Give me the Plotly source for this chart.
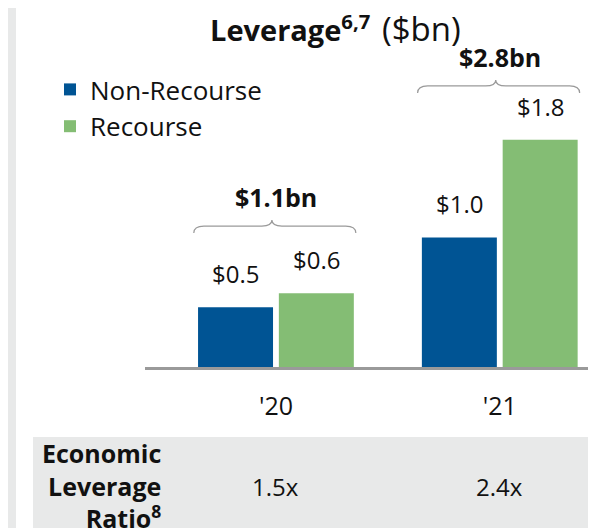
import plotly.graph_objects as go

# ---- data ----
years = ["'20", "'21"]
non_recourse = [0.47, 1.02]
recourse = [0.58, 1.79]
non_recourse_labels = ["$0.5", "$1.0"]
recourse_labels = ["$0.6", "$1.8"]
totals_labels = ["$1.1bn", "$2.8bn"]
econ_leverage = ["1.5x", "2.4x"]

# ---- style ----
BLUE = "#005494"
GREEN = "#84BD74"
FONT = "Open Sans"
BAR_W = 0.335
OFF_NR = -0.348
OFF_R = 0.013
BRACE_HALF = 0.362
BRACE_Y = [(1.055, 1.11, 1.157), (2.157, 2.213, 2.26)]  # end, mid, peak

# page body has an 8px margin: figure is drawn 8px right/down
W, H = 588, 520
ML, MT, MB = 137, 32, 161

def px(p):  # screenshot x pixel -> paper
    return (p - 145) / 451

def py(p):  # screenshot y pixel -> paper
    return (367 - p) / 327

xs = list(range(len(years)))

fig = go.Figure()
fig.add_trace(go.Bar(x=xs, y=non_recourse, name="Non-Recourse", marker_color=BLUE,
                     width=BAR_W, offset=OFF_NR, marker_line_width=0))
fig.add_trace(go.Bar(x=xs, y=recourse, name="Recourse", marker_color=GREEN,
                     width=BAR_W, offset=OFF_R, marker_line_width=0))

annotations = []
shapes = []
for i in xs:
    annotations.append(dict(x=i + OFF_NR + BAR_W / 2, y=non_recourse[i], xref="x", yref="y",
                            text=non_recourse_labels[i], showarrow=False, yanchor="bottom",
                            yshift=15, font=dict(size=24, color="#111")))
    annotations.append(dict(x=i + OFF_R + BAR_W / 2, y=recourse[i], xref="x", yref="y",
                            text=recourse_labels[i], showarrow=False, yanchor="bottom",
                            yshift=15, font=dict(size=24, color="#111")))
    ye, ym, yp = BRACE_Y[i]
    xl, xr, xm = i - 0.005 - BRACE_HALF, i - 0.005 + BRACE_HALF, i - 0.018
    d = 0.045
    path = (f"M{xl},{ye} Q{xl},{ym} {xl + d},{ym} L{xm - d},{ym} Q{xm},{ym} {xm},{yp} "
            f"Q{xm},{ym} {xm + d},{ym} L{xr - d},{ym} Q{xr},{ym} {xr},{ye}")
    shapes.append(dict(type="path", path=path, xref="x", yref="y",
                       line=dict(color="#9a9a9a", width=1.2)))
    annotations.append(dict(x=i, y=yp, xref="x", yref="y", text=f"<b>{totals_labels[i]}</b>",
                            showarrow=False, yanchor="bottom", yshift=4,
                            font=dict(size=25, color="#111")))
    annotations.append(dict(x=i, y=py(486), xref="x", yref="paper",
                            text=econ_leverage[i], showarrow=False, yanchor="middle",
                            font=dict(size=24, color="#111")))

# title (two parts: bold + regular)
annotations.append(dict(x=px(372), y=py(28), xref="paper", yref="paper",
                        text="<b>Leverage<sup>6,7</sup></b>",
                        showarrow=False, xanchor="right", yanchor="middle",
                        font=dict(size=29, color="#111")))
annotations.append(dict(x=px(380), y=py(29), xref="paper", yref="paper",
                        text="($bn)",
                        showarrow=False, xanchor="left", yanchor="middle",
                        font=dict(size=33, color="#111")))
# table row label
annotations.append(dict(x=px(163), y=py(485), xref="paper", yref="paper",
                        text="<b>Economic<br>Leverage<br>Ratio<sup>8</sup></b>", showarrow=False,
                        xanchor="right", yanchor="middle", align="right",
                        font=dict(size=25, color="#111")))

# background strips
shapes.append(dict(type="rect", xref="paper", yref="paper", x0=px(33), x1=px(600),
                   y0=py(540), y1=py(437), fillcolor="#e8e9e9",
                   line_width=0, layer="below"))
shapes.append(dict(type="rect", xref="paper", yref="paper", x0=px(8), x1=px(16),
                   y0=py(540), y1=py(0), fillcolor="#e8e9e9",
                   line_width=0, layer="below"))

fig.update_layout(
    width=W, height=H,
    margin=dict(l=ML, r=0, t=MT, b=MB, pad=0),
    paper_bgcolor="white", plot_bgcolor="white",
    font=dict(family=FONT, color="#111"),
    barmode="overlay",
    showlegend=True,
    legend=dict(x=px(50), y=py(66), xanchor="left", yanchor="top",
                font=dict(size=26, color="#111"), bgcolor="rgba(0,0,0,0)",
                tracegroupgap=0),
    annotations=annotations,
    shapes=shapes,
)
fig.update_xaxes(range=[-0.585, 1.43], tickvals=xs, ticktext=years, showgrid=False,
                 zeroline=False, showline=True, linecolor="#9a9a9a", linewidth=3,
                 ticks="", ticklabelstandoff=15, tickfont=dict(size=25, color="#111"),
                 fixedrange=True)
fig.update_yaxes(range=[0, 327 / 127], visible=False, showgrid=False, zeroline=False,
                 fixedrange=True)

fig.write_html("out.html")
